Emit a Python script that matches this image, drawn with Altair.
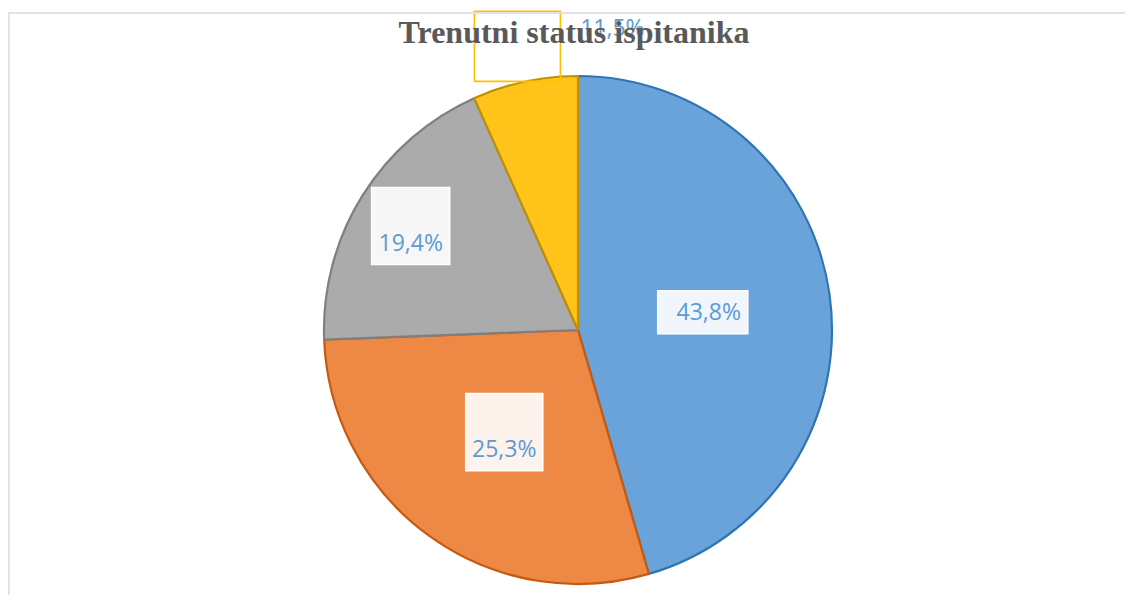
import altair as alt
import pandas as pd

# ---- data ----
title_text = "Trenutni status ispitanika"
categories = ["A", "B", "C", "D"]
slice_values = [45.5, 28.9, 18.9, 6.7]          # drawn slice sizes (%)
label_texts = ["43,8%", "25,3%", "19,4%", "11,5%"]  # printed labels

# ---- styles / layout (not data) ----
fill_colors = ["#6AA3D9", "#ED8944", "#ABABAB", "#FFC31A"]
edge_colors = ["#2E75B6", "#C55A11", "#7F7F7F", "#BF9000"]
label_radius = [126, 126, 197, 290]
box_w = [90, 77, 78, 86]
box_h = [43, 77, 77, 70]
box_fill_opacity = [0.9, 0.9, 0.9, 0.0]
box_stroke = ["#FFFFFF", "#FFFFFF", "#FFFFFF", "#FFC000"]
text_dx = [6, 0, 0, 95]
text_dy = [1, 18, 18, -17]

W, H = 1094, 520
PL, PT = 23, 62
R = 254

df = pd.DataFrame({
    "idx": list(range(len(categories))),
    "cat": categories,
    "value": slice_values,
    "label": label_texts,
    "r": label_radius,
    "bw": box_w,
    "bh": box_h,
    "bfo": box_fill_opacity,
    "bstroke": box_stroke,
    "tdx": text_dx,
    "tdy": text_dy,
})

base = alt.Chart(df)

pie = base.mark_arc(outerRadius=R, strokeWidth=2.2).encode(
    theta=alt.Theta("value:Q", stack=True),
    order=alt.Order("idx:Q"),
    color=alt.Color("cat:N", scale=alt.Scale(domain=categories, range=fill_colors), legend=None),
    stroke=alt.Stroke("cat:N", scale=alt.Scale(domain=categories, range=edge_colors), legend=None),
)

pos = base.transform_window(
    cum="sum(value)", sort=[alt.SortField("idx")], frame=[None, 0]
).transform_joinaggregate(
    total="sum(value)"
).transform_calculate(
    mid="2*PI*(datum.cum - datum.value/2)/datum.total"
).transform_calculate(
    bx="datum.r*sin(datum.mid)",
    by="datum.r*cos(datum.mid)",
).transform_calculate(
    x1="datum.bx - datum.bw/2",
    x2="datum.bx + datum.bw/2",
    y1="datum.by - datum.bh/2",
    y2="datum.by + datum.bh/2",
    tx="datum.bx + datum.tdx",
    ty="datum.by - datum.tdy",
)

xs = alt.Scale(domain=[-W / 2, W / 2], nice=False, zero=False)
ys = alt.Scale(domain=[-H / 2, H / 2], nice=False, zero=False)

boxes = pos.mark_rect(fill="white", strokeWidth=1.6).encode(
    x=alt.X("x1:Q", scale=xs, axis=None),
    x2="x2:Q",
    y=alt.Y("y1:Q", scale=ys, axis=None),
    y2="y2:Q",
    fillOpacity=alt.FillOpacity("bfo:Q", scale=None),
    stroke=alt.Stroke("bstroke:N", scale=None),
)

texts = pos.mark_text(
    font="Open Sans", fontSize=23, color="#5B9BD5", align="center", baseline="middle"
).encode(
    x=alt.X("tx:Q", scale=xs, axis=None),
    y=alt.Y("ty:Q", scale=ys, axis=None),
    text="label:N",
)

frame_top = alt.Chart(df).mark_rule(color="#E2E2E2", strokeWidth=1.6).encode(
    x=alt.value(-PL), x2=alt.value(W + 10), y=alt.value(-57)
)
frame_left = alt.Chart(df).mark_rule(color="#E2E2E2", strokeWidth=1.6).encode(
    x=alt.value(-PL + 0.5), y=alt.value(-57), y2=alt.value(H + 20)
)

title = alt.Chart(pd.DataFrame({"t": [title_text]})).mark_text(
    font="Liberation Serif",
    fontSize=32,
    fontWeight="bold",
    color="#595959",
    align="center",
    baseline="alphabetic",
).encode(
    text="t:N",
    x=alt.value(W / 2 - 4),
    y=alt.value(-27),
)

chart = alt.layer(pie, boxes, texts, frame_top, frame_left, title).properties(
    width=W,
    height=H,
    padding={"left": PL, "top": PT, "right": 0, "bottom": 5},
    autosize=alt.AutoSizeParams(type="none"),
    background="white",
).configure_view(strokeWidth=0, strokeOpacity=0)

chart.save("out.html", embed_options={"renderer": "svg", "actions": False})
